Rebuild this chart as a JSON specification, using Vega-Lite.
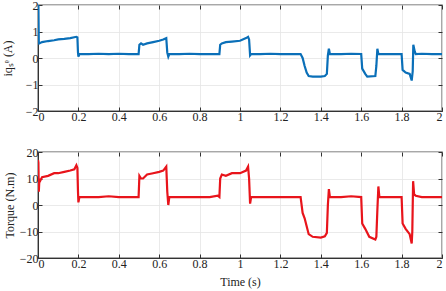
{
  "$schema": "https://vega.github.io/schema/vega-lite/v6.json",
  "autosize": {"type": "pad"},
  "padding": {"left": 0, "top": -2, "right": 0, "bottom": 2},
  "background": "white",
  "config": {
    "font": "Liberation Serif",
    "view": {"stroke": "#8c8c8c", "strokeWidth": 1.5},
    "axis": {
      "labelFont": "Liberation Serif", "titleFont": "Liberation Serif",
      "labelFontSize": 12, "titleFontSize": 12, "titleFontWeight": "normal",
      "labelColor": "#222", "titleColor": "#222",
      "domainColor": "#333", "tickColor": "#333", "tickSize": -4,
      "gridColor": "#e4e4e4", "gridWidth": 0.8, "labelPadding": 4, "format": "~r"
    }
  },
  "datasets": {
    "iq": [
      {"t":0,"v":2},{"t":0.002,"v":2},{"t":0.004,"v":0.6},{"t":0.006,"v":0.55},{"t":0.02,"v":0.6},{"t":0.05,"v":0.64},{"t":0.08,"v":0.67},{"t":0.1,"v":0.7},{"t":0.13,"v":0.72},{"t":0.16,"v":0.75},{"t":0.19,"v":0.8},{"t":0.195,"v":0.78},{"t":0.198,"v":0.2},{"t":0.2,"v":0.05},{"t":0.205,"v":0.15},{"t":0.25,"v":0.15},{"t":0.3,"v":0.16},{"t":0.35,"v":0.15},{"t":0.4,"v":0.16},{"t":0.45,"v":0.15},{"t":0.498,"v":0.15},
      {"t":0.502,"v":0.5},{"t":0.51,"v":0.55},{"t":0.52,"v":0.5},{"t":0.54,"v":0.55},{"t":0.57,"v":0.6},{"t":0.6,"v":0.65},{"t":0.62,"v":0.7},{"t":0.635,"v":0.75},{"t":0.64,"v":0.2},{"t":0.645,"v":0.05},{"t":0.65,"v":0.15},{"t":0.7,"v":0.15},{"t":0.75,"v":0.16},{"t":0.8,"v":0.15},{"t":0.85,"v":0.15},{"t":0.898,"v":0.15},
      {"t":0.902,"v":0.5},{"t":0.91,"v":0.55},{"t":0.93,"v":0.6},{"t":0.96,"v":0.62},{"t":1.0,"v":0.65},{"t":1.03,"v":0.75},{"t":1.04,"v":0.8},{"t":1.045,"v":0.7},{"t":1.05,"v":0.1},{"t":1.055,"v":0.15},{"t":1.1,"v":0.15},{"t":1.15,"v":0.16},{"t":1.2,"v":0.15},{"t":1.25,"v":0.15},{"t":1.3,"v":0.15},
      {"t":1.31,"v":0.0},{"t":1.32,"v":-0.3},{"t":1.33,"v":-0.55},{"t":1.34,"v":-0.68},{"t":1.36,"v":-0.7},{"t":1.4,"v":-0.7},{"t":1.42,"v":-0.68},{"t":1.43,"v":-0.6},{"t":1.435,"v":0.1},{"t":1.44,"v":0.35},{"t":1.445,"v":0.15},{"t":1.5,"v":0.15},{"t":1.55,"v":0.16},{"t":1.6,"v":0.15},
      {"t":1.605,"v":-0.4},{"t":1.62,"v":-0.6},{"t":1.63,"v":-0.7},{"t":1.67,"v":-0.68},{"t":1.675,"v":-0.3},{"t":1.68,"v":0.35},{"t":1.685,"v":0.15},{"t":1.75,"v":0.15},{"t":1.8,"v":0.15},
      {"t":1.805,"v":-0.45},{"t":1.82,"v":-0.55},{"t":1.84,"v":-0.6},{"t":1.85,"v":-0.85},{"t":1.855,"v":-0.5},{"t":1.858,"v":0.5},{"t":1.865,"v":0.25},{"t":1.87,"v":0.15},{"t":1.9,"v":0.16},{"t":1.95,"v":0.15},{"t":2,"v":0.15}
    ],
    "torque": [
      {"t":0,"v":17},{"t":0.002,"v":16},{"t":0.004,"v":5},{"t":0.007,"v":10},{"t":0.01,"v":9},{"t":0.02,"v":10.5},{"t":0.05,"v":11},{"t":0.08,"v":12},{"t":0.1,"v":12},{"t":0.13,"v":12.5},{"t":0.16,"v":13},{"t":0.18,"v":13.5},{"t":0.19,"v":15},{"t":0.195,"v":14},{"t":0.198,"v":5},{"t":0.2,"v":1},{"t":0.205,"v":3},{"t":0.25,"v":3},{"t":0.3,"v":3},{"t":0.35,"v":3.3},{"t":0.4,"v":3},{"t":0.45,"v":3},{"t":0.498,"v":3},
      {"t":0.502,"v":11},{"t":0.51,"v":10},{"t":0.52,"v":10},{"t":0.54,"v":11.5},{"t":0.57,"v":12},{"t":0.6,"v":12.5},{"t":0.62,"v":13},{"t":0.635,"v":14.5},{"t":0.64,"v":5},{"t":0.645,"v":0},{"t":0.65,"v":3},{"t":0.7,"v":3},{"t":0.75,"v":3},{"t":0.8,"v":3},{"t":0.85,"v":3},{"t":0.89,"v":3.5},{"t":0.898,"v":3},
      {"t":0.902,"v":10},{"t":0.91,"v":11.5},{"t":0.93,"v":11},{"t":0.96,"v":12},{"t":1.0,"v":12},{"t":1.03,"v":13},{"t":1.04,"v":14.5},{"t":1.045,"v":10},{"t":1.05,"v":0.5},{"t":1.055,"v":3},{"t":1.1,"v":3},{"t":1.15,"v":3},{"t":1.2,"v":3},{"t":1.25,"v":3},{"t":1.3,"v":3},
      {"t":1.31,"v":-3},{"t":1.32,"v":-5},{"t":1.33,"v":-8},{"t":1.34,"v":-11},{"t":1.36,"v":-12},{"t":1.4,"v":-12.3},{"t":1.42,"v":-11.8},{"t":1.43,"v":-10.5},{"t":1.435,"v":0},{"t":1.44,"v":6},{"t":1.445,"v":3},{"t":1.5,"v":3},{"t":1.55,"v":3.3},{"t":1.6,"v":3},
      {"t":1.605,"v":-7},{"t":1.62,"v":-9},{"t":1.64,"v":-12},{"t":1.67,"v":-13},{"t":1.675,"v":-12},{"t":1.68,"v":-2},{"t":1.685,"v":7},{"t":1.69,"v":3},{"t":1.75,"v":3},{"t":1.8,"v":3},
      {"t":1.805,"v":-7},{"t":1.82,"v":-9},{"t":1.84,"v":-11},{"t":1.85,"v":-14.5},{"t":1.853,"v":-10},{"t":1.857,"v":9},{"t":1.862,"v":4},{"t":1.87,"v":3.5},{"t":1.9,"v":3},{"t":1.95,"v":3},{"t":2,"v":3}
    ]
  },
  "vconcat": [
    {
      "width": 404, "height": 106,
      "data": {"name": "iq"},
      "layer": [
        {
          "mark": {"type": "line", "color": "#0a6fb8", "strokeWidth": 2.2, "clip": true},
          "encoding": {
            "x": {"field": "t", "type": "quantitative", "scale": {"domain": [0, 2], "nice": false},
                  "axis": {"values": [0,0.2,0.4,0.6,0.8,1,1.2,1.4,1.6,1.8,2], "title": null}},
            "y": {"field": "v", "type": "quantitative", "scale": {"domain": [-2, 2], "nice": false},
                  "axis": {"values": [-2,-1,0,1,2], "title": "iqₛᵉ (A)", "titlePadding": 11}}
          }
        },
        {
          "mark": {"type": "line", "opacity": 0},
          "encoding": {
            "x": {"field": "t", "type": "quantitative", "scale": {"domain": [0, 2], "nice": false},
                  "axis": {"orient": "top", "values": [0,0.2,0.4,0.6,0.8,1,1.2,1.4,1.6,1.8,2], "title": null, "labels": false, "domain": false, "grid": false}},
            "y": {"field": "v", "type": "quantitative", "scale": {"domain": [-2, 2], "nice": false},
                  "axis": {"orient": "right", "values": [-2,-1,0,1,2], "title": null, "labels": false, "domain": false, "grid": false}}
          }
        }
      ],
      "resolve": {"axis": {"x": "independent", "y": "independent"}}
    },
    {
      "width": 404, "height": 106,
      "data": {"name": "torque"},
      "layer": [
        {
          "mark": {"type": "line", "color": "#e8141b", "strokeWidth": 2.2, "clip": true},
          "encoding": {
            "x": {"field": "t", "type": "quantitative", "scale": {"domain": [0, 2], "nice": false},
                  "axis": {"values": [0,0.2,0.4,0.6,0.8,1,1.2,1.4,1.6,1.8,2], "title": "Time (s)", "titlePadding": 7}},
            "y": {"field": "v", "type": "quantitative", "scale": {"domain": [-20, 20], "nice": false},
                  "axis": {"values": [-20,-10,0,10,20], "title": "Torque (N.m)", "titlePadding": 3}}
          }
        },
        {
          "mark": {"type": "line", "opacity": 0},
          "encoding": {
            "x": {"field": "t", "type": "quantitative", "scale": {"domain": [0, 2], "nice": false},
                  "axis": {"orient": "top", "values": [0,0.2,0.4,0.6,0.8,1,1.2,1.4,1.6,1.8,2], "title": null, "labels": false, "domain": false, "grid": false}},
            "y": {"field": "v", "type": "quantitative", "scale": {"domain": [-20, 20], "nice": false},
                  "axis": {"orient": "right", "values": [-20,-10,0,10,20], "title": null, "labels": false, "domain": false, "grid": false}}
          }
        }
      ],
      "resolve": {"axis": {"x": "independent", "y": "independent"}}
    }
  ],
  "spacing": 41,
  "bounds": "flush"
}
